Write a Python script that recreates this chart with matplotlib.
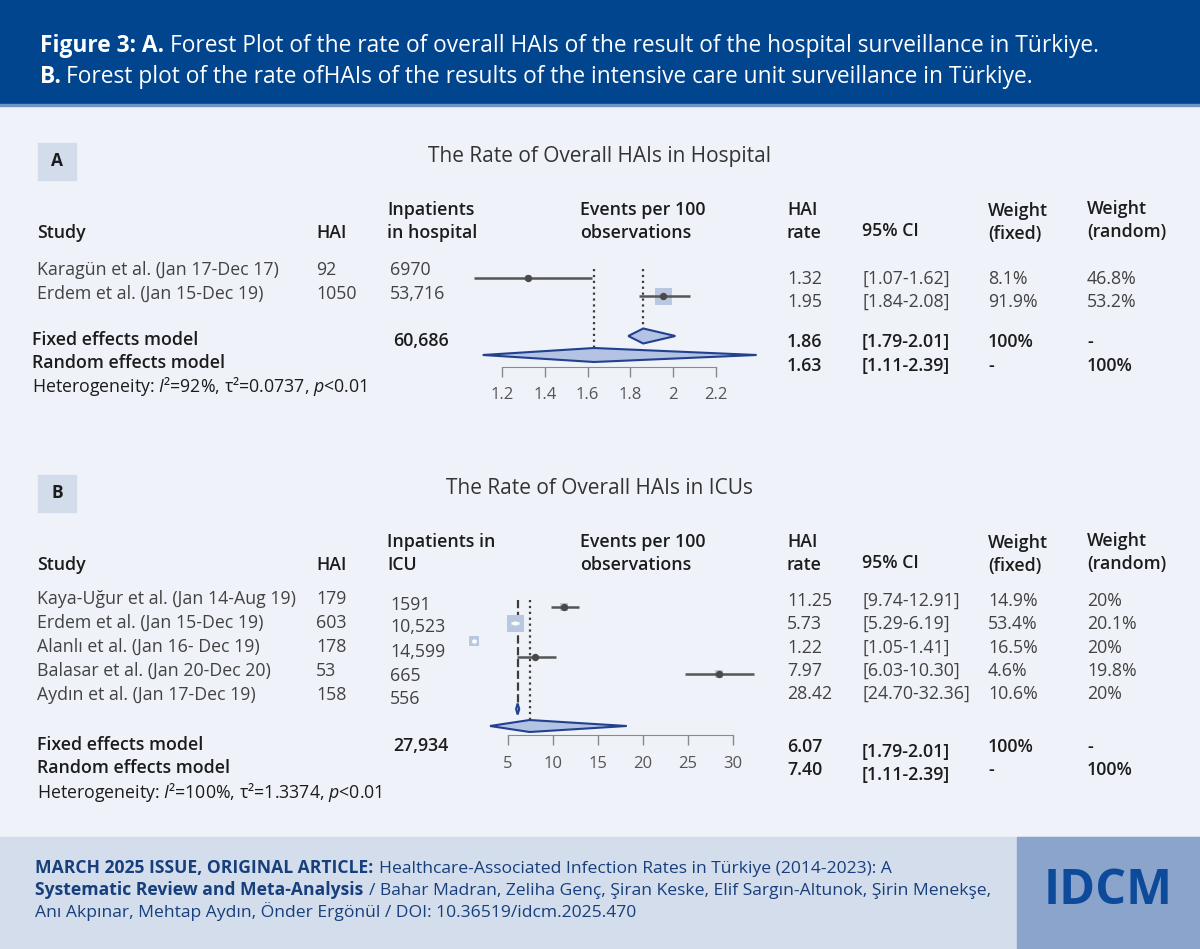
import matplotlib
matplotlib.use("Agg")
import matplotlib.pyplot as plt
from matplotlib.patches import Rectangle
import numpy as np

plt.rcParams['font.family'] = ['Open Sans', 'DejaVu Sans']
plt.rcParams['mathtext.fontset'] = 'custom'
plt.rcParams['mathtext.rm'] = 'Open Sans'
plt.rcParams['mathtext.it'] = 'Open Sans:italic'
plt.rcParams['mathtext.bf'] = 'Open Sans:bold'

W, H = 1200, 949

# ---------------- data: panel A (hospital)
studies_a = ["Karagün et al. (Jan 17-Dec 17)", "Erdem et al. (Jan 15-Dec 19)"]
hai_a = [92, 1050]
inpat_a = ["6970", "53,716"]
rate_a = [1.32, 1.95]
lo_a = [1.07, 1.84]
hi_a = [1.62, 2.08]
wfix_a = [8.1, 91.9]
wran_a = [46.8, 53.2]
total_a = "60,686"
fixed_a = [1.86, 1.79, 2.01]
random_a = [1.63, 1.11, 2.39]
het_a = r"Heterogeneity: $I$²=92%, τ²=0.0737, $p$<0.01"
ticks_a = [1.2, 1.4, 1.6, 1.8, 2, 2.2]

# ---------------- data: panel B (ICU)
studies_b = ["Kaya-Uğur et al. (Jan 14-Aug 19)", "Erdem et al. (Jan 15-Dec 19)",
             "Alanlı et al. (Jan 16- Dec 19)", "Balasar et al. (Jan 20-Dec 20)",
             "Aydın et al. (Jan 17-Dec 19)"]
hai_b = [179, 603, 178, 53, 158]
inpat_b = ["1591", "10,523", "14,599", "665", "556"]
rate_b = [11.25, 5.73, 1.22, 7.97, 28.42]
lo_b = [9.74, 5.29, 1.05, 6.03, 24.70]
hi_b = [12.91, 6.19, 1.41, 10.30, 32.36]
wfix_b = [14.9, 53.4, 16.5, 4.6, 10.6]
wran_b = [20, 20.1, 20, 19.8, 20]
total_b = "27,934"
fixed_b = [6.07, 1.79, 2.01]      # printed values
random_b = [7.40, 1.11, 2.39]
fixed_b_drawn = [6.07, 5.9, 6.25]  # diamond extents as seen in the plot
random_b_drawn = [7.40, 3.0, 18.2]
het_b = r"Heterogeneity: $I$²=100%, τ²=1.3374, $p$<0.01"
ticks_b = [5, 10, 15, 20, 25, 30]

# ---------------- colours
NAVY = '#01458f'
BG = '#eff2f8'
TXT = '#424242'
HEAD = '#1c1c1c'
SQ = '#b9c7e1'
DIA = '#b4c3e3'
DIA_E = '#21418f'
LINE = '#555555'
FS = 12.8

fig = plt.figure(figsize=(W / 100, H / 100), dpi=100)
bg = fig.add_axes([0, 0, 1, 1])
bg.set_xlim(0, W)
bg.set_ylim(H, 0)
bg.axis('off')

bg.add_patch(Rectangle((0, 0), W, H, color=BG, zorder=0))
bg.add_patch(Rectangle((0, 0), W, 105, color=NAVY, zorder=1))
bg.add_patch(Rectangle((0, 104), W, 2, color='#7393c2', zorder=1))
bg.add_patch(Rectangle((0, 837), W, 112, color='#d3ddec', zorder=1))
bg.add_patch(Rectangle((1017, 837), 183, 112, color='#8aa4cb', zorder=1))


def chain(x, y, parts, gap=4, **kw):
    prev = None
    for s, w in parts:
        if prev is None:
            prev = bg.text(x, y, s, fontweight=w, va='center', ha='left', zorder=3, **kw)
        else:
            prev = bg.annotate(s, xy=(1, 0), xycoords=prev, xytext=(gap, 0),
                               textcoords='offset points', va='bottom', ha='left',
                               fontweight=w, zorder=3, **kw)


def t(x, y, s, size=FS, color=TXT, weight='normal', ha='left'):
    bg.text(x, y, s, fontsize=size, color=color, fontweight=weight,
            ha=ha, va='center', zorder=3)


# header
chain(40, 46, [("Figure 3: A.", 'bold'),
               ("Forest Plot of the rate of overall HAIs of the result of the hospital surveillance in Türkiye.", 'normal')],
      fontsize=16.4, color='white')
chain(40, 77, [("B.", 'bold'),
               ("Forest plot of the rate ofHAIs of the results of the intensive care unit surveillance in Türkiye.", 'normal')],
      fontsize=16.4, color='white')

# footer
FT = '#173f7c'
chain(35, 868, [("MARCH 2025 ISSUE, ORIGINAL ARTICLE:", 'bold'),
                ("Healthcare-Associated Infection Rates in Türkiye (2014-2023): A", 'normal')],
      fontsize=12.6, color=FT)
chain(35, 890, [("Systematic Review and Meta-Analysis", 'bold'),
                ("/ Bahar Madran, Zeliha Genç, Şiran Keske, Elif Sargın-Altunok, Şirin Menekşe,", 'normal')],
      fontsize=12.6, color=FT)
chain(35, 912, [("Anı Akpınar, Mehtap Aydın, Önder Ergönül / DOI: 10.36519/idcm.2025.470", 'normal')],
      fontsize=12.6, color=FT)
bg.text(1108, 892, "IDCM", fontsize=35, fontweight='bold', color='#0d4a9a',
        ha='center', va='center', zorder=3)


def table(top, title, col3, studies, hai, inpat, rate, lo, hi, wfix, wran,
          total, fixed, random, het, rows_y, inpat_y, right_y, model_y, right_model_y,
          ci_model_y, label, model_x):
    bg.add_patch(Rectangle((38, top), 38, 37, color='#d3dceb', zorder=1))
    t(57, top + 18, label, size=12.5, color=HEAD, weight='bold', ha='center')
    t(600, top + 13, title, size=15, color='#333333', ha='center')
    h1, h2 = top + 67, top + 90
    t(37, h2, "Study", color=HEAD, weight='semibold')
    t(316, h2, "HAI", color=HEAD, weight='semibold')
    t(387, h1, col3[0], color=HEAD, weight='semibold')
    t(387, h2, col3[1], color=HEAD, weight='semibold')
    t(580, h1, "Events per 100", color=HEAD, weight='semibold')
    t(580, h2, "observations", color=HEAD, weight='semibold')
    t(787, h1, "HAI", color=HEAD, weight='semibold')
    t(787, h2, "rate", color=HEAD, weight='semibold')
    t(862, h2 - 2, "95% CI", color=HEAD, weight='semibold')
    t(988, h1 + 1, "Weight", color=HEAD, weight='semibold')
    t(988, h2 + 1, "(fixed)", color=HEAD, weight='semibold')
    t(1087, h1 - 1, "Weight", color=HEAD, weight='semibold')
    t(1087, h2 - 1, "(random)", color=HEAD, weight='semibold')
    for i in range(len(studies)):
        t(37, rows_y[i], studies[i])
        t(316, rows_y[i], str(hai[i]))
        t(390, inpat_y[i], inpat[i])
        t(787, right_y[i], f"{rate[i]:.2f}")
        t(862, right_y[i], f"[{lo[i]:.2f}-{hi[i]:.2f}]")
        t(988, right_y[i], f"{wfix[i]:g}%")
        t(1087, right_y[i], f"{wran[i]:g}%")
    t(model_x, model_y[0], "Fixed effects model", color=HEAD, weight='semibold')
    t(model_x, model_y[1], "Random effects model", color=HEAD, weight='semibold')
    t(model_x, model_y[2], het, color=HEAD)
    t(393, model_y[0] + 1, total, color=HEAD, weight='semibold')
    t(787, right_model_y[0], f"{fixed[0]:.2f}", color=HEAD, weight='semibold')
    t(787, right_model_y[1], f"{random[0]:.2f}", color=HEAD, weight='semibold')
    t(862, ci_model_y[0], f"[{fixed[1]:.2f}-{fixed[2]:.2f}]", color=HEAD, weight='semibold')
    t(862, ci_model_y[1], f"[{random[1]:.2f}-{random[2]:.2f}]", color=HEAD, weight='semibold')
    t(988, right_model_y[0], "100%", color=HEAD, weight='semibold')
    t(988, right_model_y[1], "-", color=HEAD, weight='semibold')
    t(1087, right_model_y[0], "-", color=HEAD, weight='semibold')
    t(1087, right_model_y[1], "100%", color=HEAD, weight='semibold')


table(143, "The Rate of Overall HAIs in Hospital", ["Inpatients", "in hospital"],
      studies_a, hai_a, inpat_a, rate_a, lo_a, hi_a, wfix_a, wran_a,
      total_a, fixed_a, random_a, het_a,
      rows_y=[270, 294], inpat_y=[270, 294], right_y=[279, 302],
      model_y=[340, 363, 386], right_model_y=[342, 366], ci_model_y=[342, 366],
      label="A", model_x=32)
table(475, "The Rate of Overall HAIs in ICUs", ["Inpatients in", "ICU"],
      studies_b, hai_b, inpat_b, rate_b, lo_b, hi_b, wfix_b, wran_b,
      total_b, fixed_b, random_b, het_b,
      rows_y=[599, 623, 647, 671, 695], inpat_y=[605, 627, 652, 676, 699],
      right_y=[601, 624, 648, 671, 694],
      model_y=[745, 768, 792], right_model_y=[747, 770], ci_model_y=[752, 775],
      label="B", model_x=37)


def forest(box, tick_px, ticks, rows_y, rate, lo, hi, wfix, fixed, fixed_y, fixed_h,
           random, random_y, random_h, axis_y, line_top, fixed_ls, pad):
    x0, y0, x1, y1 = box
    ax = fig.add_axes([x0 / W, 1 - y1 / H, (x1 - x0) / W, (y1 - y0) / H])
    ax.patch.set_alpha(0)
    scale = (tick_px[1] - tick_px[0]) / (ticks[-1] - ticks[0])
    ax.set_xlim(ticks[0] - (tick_px[0] - x0) / scale, ticks[0] + (x1 - tick_px[0]) / scale)
    ax.set_ylim(y1, y0)
    for s in ['top', 'left', 'right']:
        ax.spines[s].set_visible(False)
    ax.spines['bottom'].set_position(('data', axis_y))
    ax.spines['bottom'].set_bounds(ticks[0], ticks[-1])
    ax.spines['bottom'].set_color('#8a8a8a')
    ax.set_yticks([])
    ax.set_xticks(ticks)
    ax.set_xticklabels([f"{v:g}" for v in ticks])
    ax.tick_params(axis='x', direction='out', length=7, width=1, color='#8a8a8a',
                   labelsize=12, labelcolor='#555555', pad=pad)

    # reference lines
    ax.vlines(fixed[0], line_top, fixed_y - fixed_h / 2, color='#3d3d3d', lw=1.6,
              linestyles=fixed_ls, zorder=2)
    ax.vlines(random[0], line_top, random_y - random_h / 2, color='#3d3d3d', lw=1.6,
              linestyles=':', zorder=2)

    wmax = max(wfix)
    for i in range(len(rate)):
        side = 17 * np.sqrt(wfix[i] / wmax)
        ax.scatter([rate[i]], [rows_y[i]], marker='s', s=(side * 0.72) ** 2,
                   color=SQ, linewidths=0, zorder=3)
        inside = (hi[i] - lo[i]) * scale < side
        c = 'white' if inside else LINE
        ax.plot([lo[i], hi[i]], [rows_y[i], rows_y[i]], color=c, lw=1.8,
                solid_capstyle='butt', zorder=4)
        ax.plot([rate[i]], [rows_y[i]], 'o', color='white' if inside else '#4a4a4a',
                ms=5.3 if not inside else 3.2, mew=0, zorder=5)

    for est, lo_, hi_, yc, hh in [(fixed[0], fixed[1], fixed[2], fixed_y, fixed_h),
                                  (random[0], random[1], random[2], random_y, random_h)]:
        ax.fill([lo_, est, hi_, est], [yc, yc - hh / 2, yc, yc + hh / 2],
                facecolor=DIA, edgecolor=DIA_E, lw=1.5, zorder=4)
    return ax


forest((455, 255, 775, 405), (502, 716), ticks_a, [278, 296], rate_a, lo_a, hi_a, wfix_a,
       fixed_a, 336, 15, random_a, 355, 14, axis_y=367, line_top=269, fixed_ls=':', pad=7.5)
forest((455, 590, 775, 780), (508, 733), ticks_b, [607, 623, 641, 657, 674], rate_b, lo_b,
       hi_b, wfix_b, fixed_b_drawn, 709, 11, random_b_drawn, 726, 12, axis_y=735,
       line_top=600, fixed_ls='--', pad=8)

fig.savefig("out.png", dpi=100)
